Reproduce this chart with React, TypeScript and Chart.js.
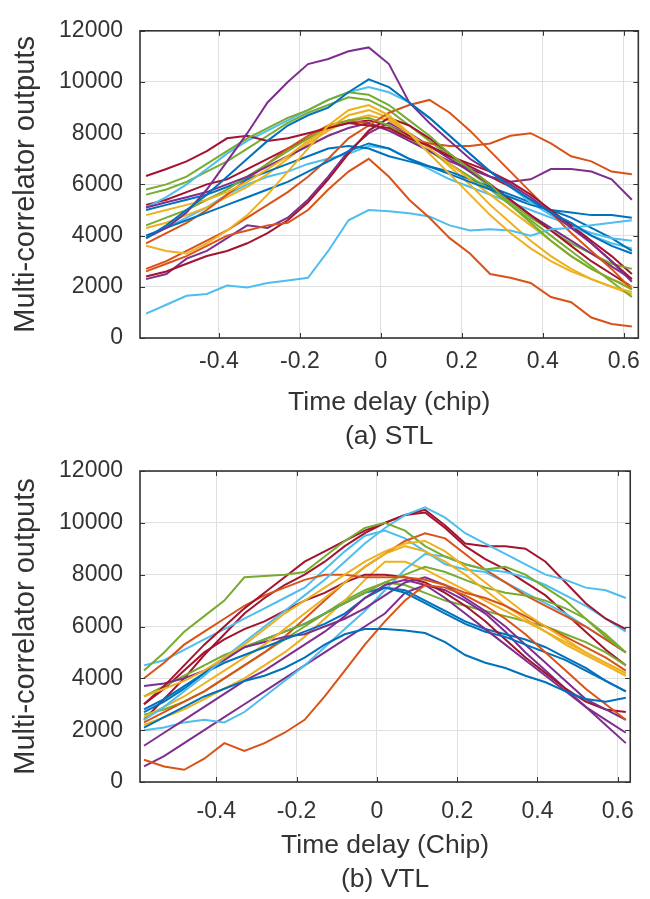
import React, { useEffect, useRef } from 'react';
import { Chart, registerables } from 'chart.js';

Chart.register(...registerables);

// ---------- data ----------
const DELAY_CHIP = [-0.58, -0.53, -0.48, -0.43, -0.38, -0.33, -0.28, -0.23, -0.18, -0.13, -0.08, -0.03, 0.02, 0.07, 0.12, 0.17, 0.22, 0.27, 0.32, 0.37, 0.42, 0.47, 0.52, 0.57, 0.62];
const X_TICKS = [-0.4, -0.2, 0, 0.2, 0.4, 0.6];
const Y_TICKS = [0, 2000, 4000, 6000, 8000, 10000, 12000];
const MATLAB_COLORS = ['#0072BD', '#D95319', '#EDB120', '#7E2F8E', '#77AC30', '#4DBEEE', '#A2142F'];

const Y_LABEL = 'Multi-correlator outputs';
const STL_X_LABEL = ['Time delay (chip)', '(a) STL'];
const VTL_X_LABEL = ['Time delay (Chip)', '(b) VTL'];

// (a) STL
const STL_01 = [3900, 4400, 5000, 5600, 6300, 7000, 7700, 8300, 8700, 9000, 9600, 10100, 9800, 9200, 8600, 7900, 7200, 6500, 5900, 5400, 4900, 4500, 4000, 3600, 3300];
const STL_02 = [2600, 2900, 3200, 3600, 4000, 4200, 4400, 4500, 5000, 5800, 6500, 7000, 6300, 5400, 4700, 3900, 3300, 2500, 2350, 2150, 1600, 1400, 800, 550, 450];
const STL_03 = [3600, 3400, 3300, 3700, 4200, 4800, 5600, 6500, 7400, 8300, 8900, 9100, 8700, 8000, 7200, 6400, 5600, 4800, 4100, 3500, 3000, 2600, 2300, 2000, 1800];
const STL_04 = [3900, 4300, 4900, 5800, 6900, 8000, 9200, 10000, 10700, 10900, 11200, 11350, 10700, 9200, 8400, 7700, 7000, 6500, 6000, 5500, 4900, 4300, 3700, 3000, 2200];
const STL_05 = [5800, 6000, 6300, 6800, 7300, 7800, 8200, 8600, 8900, 9300, 9600, 9500, 9100, 8500, 7900, 7200, 6600, 6000, 5200, 4500, 3800, 3200, 2700, 2300, 1900];
const STL_06 = [950, 1300, 1650, 1720, 2050, 1970, 2150, 2250, 2350, 3400, 4600, 5000, 4950, 4870, 4750, 4400, 4200, 4250, 4200, 4000, 4250, 4300, 4400, 4500, 4600];
const STL_07 = [6330, 6600, 6900, 7300, 7800, 7900, 7700, 7800, 8000, 8200, 8400, 8300, 8200, 7800, 7500, 7100, 6800, 6500, 6100, 5600, 5000, 4400, 3700, 3000, 2300];
const STL_08 = [4000, 4300, 4600, 4900, 5200, 5500, 5800, 6100, 6500, 6900, 7300, 7600, 7400, 7000, 6700, 6400, 6100, 5800, 5500, 5200, 5000, 4900, 4800, 4800, 4700];
const STL_09 = [2700, 3000, 3400, 3800, 4200, 4700, 5200, 5700, 6300, 7000, 7800, 8300, 8800, 9100, 9300, 8800, 8100, 7300, 6500, 5700, 4900, 4100, 3400, 2700, 1900];
const STL_10 = [4800, 5000, 5200, 5400, 5700, 6100, 6600, 7100, 7700, 8200, 8700, 8900, 8600, 8000, 7400, 6800, 6200, 5600, 5000, 4400, 3800, 3200, 2700, 2300, 2000];
const STL_11 = [5100, 5300, 5500, 5700, 6000, 6300, 6700, 7100, 7500, 7900, 8200, 8400, 8100, 7700, 7300, 6900, 6600, 6300, 6100, 6200, 6600, 6600, 6500, 6200, 5400];
const STL_12 = [4400, 4700, 5000, 5400, 5800, 6300, 6800, 7300, 7800, 8200, 8500, 8600, 8300, 7800, 7300, 6800, 6300, 5800, 5200, 4600, 4000, 3400, 2800, 2200, 1600];
const STL_13 = [5100, 5500, 6000, 6600, 7200, 7700, 8100, 8500, 8900, 9300, 9600, 9800, 9600, 9200, 8600, 7900, 7200, 6500, 5900, 5300, 4800, 4400, 4100, 3900, 3800];
const STL_14 = [2400, 2600, 2900, 3200, 3400, 3700, 4100, 4600, 5300, 6200, 7200, 8100, 8600, 8300, 7800, 7200, 6600, 6000, 5400, 4800, 4200, 3600, 3000, 2500, 2000];
const STL_15 = [5000, 5200, 5400, 5600, 5900, 6200, 6500, 6800, 7100, 7400, 7500, 7400, 7100, 6900, 6700, 6500, 6200, 5900, 5600, 5300, 5000, 4700, 4300, 3900, 3400];
const STL_16 = [3700, 4100, 4500, 5000, 5600, 6200, 6800, 7400, 7900, 8300, 8500, 8400, 8100, 7800, 7600, 7500, 7500, 7600, 7900, 8000, 7600, 7100, 6900, 6500, 6400];
const STL_17 = [4300, 4500, 4800, 5100, 5500, 5900, 6400, 7000, 7600, 8100, 8500, 8700, 8500, 8000, 7400, 6700, 6000, 5200, 4500, 3800, 3200, 2700, 2300, 2000, 1700];
const STL_18 = [2300, 2500, 3100, 3400, 3900, 4400, 4300, 4700, 5400, 6300, 7300, 8000, 8400, 8000, 7500, 7000, 6500, 6000, 5400, 4800, 4300, 3800, 3300, 2800, 2300];
const STL_19 = [5600, 5800, 6100, 6500, 6900, 7400, 7900, 8400, 8800, 9100, 9400, 9300, 8900, 8300, 7700, 7100, 6500, 5900, 5300, 4700, 4200, 3700, 3300, 2900, 2700];
const STL_20 = [4000, 4300, 4700, 5100, 5600, 6000, 6300, 6500, 6800, 7000, 7200, 7500, 7400, 7000, 6600, 6200, 5900, 5600, 5300, 5000, 4700, 4400, 4000, 3700, 3500];
const STL_21 = [5200, 5400, 5700, 6000, 6200, 6600, 7000, 7400, 7800, 8200, 8400, 8500, 8300, 7900, 7500, 7100, 6700, 6300, 5900, 5400, 4900, 4400, 3800, 3200, 2500];
const STL_SERIES = [STL_01, STL_02, STL_03, STL_04, STL_05, STL_06, STL_07, STL_08, STL_09, STL_10, STL_11, STL_12, STL_13, STL_14, STL_15, STL_16, STL_17, STL_18, STL_19, STL_20, STL_21];

// (b) VTL
const VTL_01 = [2100, 2500, 2900, 3300, 3600, 3900, 4100, 4400, 4800, 5300, 5700, 5900, 5900, 5850, 5750, 5400, 4900, 4600, 4400, 4100, 3850, 3500, 3200, 3100, 3250];
const VTL_02 = [860, 600, 470, 900, 1500, 1200, 1500, 1900, 2400, 3300, 4300, 5300, 6200, 7000, 7600, 7500, 7200, 6800, 6300, 5700, 5000, 4300, 3600, 3000, 2400];
const VTL_03 = [3300, 3600, 3900, 4300, 4800, 5300, 5900, 6500, 7000, 7500, 8000, 8500, 8900, 9200, 9300, 8900, 8300, 7700, 7100, 6500, 6000, 5500, 5000, 4600, 4200];
const VTL_04 = [1400, 1900, 2400, 2900, 3400, 3900, 4300, 4800, 5300, 5800, 6400, 7100, 7600, 7800, 7600, 7100, 6500, 5900, 5300, 4700, 4100, 3500, 2900, 2400, 1900];
const VTL_05 = [4300, 5000, 5800, 6400, 7000, 7900, 7950, 8000, 8100, 8700, 9300, 9800, 10000, 9700, 9100, 8700, 8400, 8200, 8300, 8000, 7500, 7000, 6300, 5600, 5000];
const VTL_06 = [2400, 2900, 3500, 4100, 4800, 5400, 6000, 6600, 7200, 7800, 8500, 9200, 9800, 10300, 10600, 10200, 9600, 9200, 8800, 8400, 8000, 7800, 7500, 7400, 7100];
const VTL_07 = [3000, 3700, 4500, 5300, 6000, 6700, 7300, 7900, 8500, 8900, 9300, 9700, 10000, 10300, 10500, 9900, 9200, 9100, 9100, 9000, 8500, 7700, 6900, 6300, 5900];
const VTL_08 = [2800, 3200, 3700, 4200, 4600, 4900, 5200, 5500, 5800, 6100, 6500, 7100, 7500, 7300, 6900, 6500, 6100, 5800, 5600, 5300, 5000, 4700, 4300, 3900, 3500];
const VTL_09 = [4000, 4600, 5300, 5800, 6300, 6800, 7200, 7500, 7800, 8000, 8000, 7900, 7900, 7900, 7800, 7600, 7300, 7100, 6800, 6400, 6000, 5600, 5200, 4800, 4300];
const VTL_10 = [2500, 2900, 3300, 3800, 4300, 4800, 5300, 5900, 6500, 7100, 7700, 8300, 8800, 9100, 8900, 8500, 8000, 7400, 6800, 6300, 5800, 5300, 4900, 4500, 4100];
const VTL_11 = [3700, 3800, 4000, 4300, 4700, 5200, 5400, 5600, 5700, 6000, 6300, 6700, 7200, 7700, 7900, 7600, 7100, 6600, 6000, 5300, 4600, 3900, 3200, 2800, 2400];
const VTL_12 = [3300, 3700, 4100, 4500, 4900, 5200, 5500, 5800, 6100, 6500, 6900, 7300, 7700, 8000, 8300, 8100, 7800, 7500, 7300, 7200, 7000, 6700, 6300, 5700, 5000];
const VTL_13 = [2000, 2100, 2300, 2400, 2300, 2700, 3300, 3900, 4500, 5200, 5900, 6600, 7400, 8200, 8800, 8700, 8400, 8200, 8100, 7900, 7600, 7200, 6800, 6300, 5800];
const VTL_14 = [3000, 3600, 4300, 5000, 5500, 5900, 6200, 6600, 7000, 7300, 7700, 8000, 8000, 7900, 7700, 7300, 6800, 6200, 5500, 4800, 4200, 3600, 3100, 2800, 2700];
const VTL_15 = [2700, 3100, 3600, 4200, 4800, 5200, 5500, 5800, 6100, 6500, 6900, 7300, 7500, 7400, 7000, 6600, 6200, 5900, 5700, 5500, 5200, 4800, 4400, 3900, 3500];
const VTL_16 = [2300, 2700, 3100, 3500, 4000, 4500, 5000, 5600, 6300, 7000, 7700, 8300, 8800, 9300, 9600, 9400, 8800, 8200, 7700, 7200, 6800, 6400, 6000, 5500, 5000];
const VTL_17 = [2200, 2500, 2800, 3200, 3600, 4000, 4500, 5000, 5600, 6300, 7000, 7800, 8500, 8500, 8200, 7800, 7400, 7000, 6600, 6200, 5800, 5400, 5000, 4600, 4200];
const VTL_18 = [600, 1000, 1500, 2000, 2500, 3000, 3500, 4000, 4500, 5000, 5500, 6000, 6500, 7300, 7600, 7400, 7000, 6500, 5800, 5000, 4300, 3600, 2900, 2200, 1500];
const VTL_19 = [2600, 2800, 3100, 3500, 4000, 4500, 5000, 5500, 6000, 6500, 7000, 7400, 7700, 7600, 7300, 7000, 6800, 6600, 6400, 6200, 6000, 5700, 5400, 5000, 4500];
const VTL_20 = [4500, 4700, 5100, 5500, 5900, 6300, 6700, 7100, 7500, 8200, 8900, 9500, 9700, 9400, 8900, 8400, 8200, 8100, 7700, 7300, 6900, 6500, 6000, 5500, 5000];
const VTL_21 = [2400, 3200, 4000, 4900, 5700, 6500, 7100, 7600, 8000, 8500, 9100, 9600, 10000, 10300, 10400, 9800, 9100, 8600, 8200, 7700, 7200, 6500, 5800, 5100, 4500];
const VTL_SERIES = [VTL_01, VTL_02, VTL_03, VTL_04, VTL_05, VTL_06, VTL_07, VTL_08, VTL_09, VTL_10, VTL_11, VTL_12, VTL_13, VTL_14, VTL_15, VTL_16, VTL_17, VTL_18, VTL_19, VTL_20, VTL_21];

// ---------- styling ----------
const FONT = "'Liberation Sans', Arial, Helvetica, sans-serif";
const TEXT_COLOR = '#333333';
const FRAME_COLOR = '#333333';
const GRID_COLOR = '#e0e0e0';

const framePlugin = {
  id: 'matlabFrame',
  afterDraw(chart: any) {
    const { ctx, chartArea: a, scales } = chart;
    ctx.save();
    ctx.strokeStyle = FRAME_COLOR;
    ctx.lineWidth = 1;
    const tl = 5;
    ctx.beginPath();
    for (const t of scales.x.ticks) {
      const px = Math.round(scales.x.getPixelForValue(t.value)) + 0.5;
      ctx.moveTo(px, a.bottom); ctx.lineTo(px, a.bottom - tl);
      ctx.moveTo(px, a.top); ctx.lineTo(px, a.top + tl);
    }
    for (const t of scales.y.ticks) {
      const py = Math.round(scales.y.getPixelForValue(t.value)) + 0.5;
      ctx.moveTo(a.left, py); ctx.lineTo(a.left + tl, py);
      ctx.moveTo(a.right, py); ctx.lineTo(a.right - tl, py);
    }
    ctx.stroke();
    ctx.lineWidth = 1.6;
    ctx.strokeRect(a.left, a.top, a.right - a.left, a.bottom - a.top);
    ctx.restore();
  },
};

type PanelProps = {
  series: number[][];
  xLabel: string[];
  xMin: number;
  xMax: number;
  height: number;
  top: number;
  plotTop: number;
  plotBottom: number;
  tickPad: number;
  titlePadBottom: number;
};

const CANVAS_W = 650;
const PLOT_LEFT = 140;
const PLOT_RIGHT = 641;

function Panel(p: PanelProps) {
  const ref = useRef<HTMLCanvasElement | null>(null);
  useEffect(() => {
    if (!ref.current) return;
    const datasets = p.series.map((s, i) => ({
      data: DELAY_CHIP.map((x, j) => ({ x, y: s[j] })),
      borderColor: MATLAB_COLORS[i % MATLAB_COLORS.length],
      borderWidth: 2,
      pointRadius: 0,
      tension: 0,
      fill: false,
    }));
    const chart = new Chart(ref.current, {
      type: 'line',
      data: { datasets },
      plugins: [framePlugin],
      options: {
        animation: false,
        responsive: false,
        devicePixelRatio: 1,
        layout: { padding: { left: 0, top: p.plotTop, right: CANVAS_W - PLOT_RIGHT, bottom: 0 } },
        plugins: { legend: { display: false }, tooltip: { enabled: false }, title: { display: false } },
        scales: {
          x: {
            type: 'linear',
            min: p.xMin,
            max: p.xMax,
            afterBuildTicks: (s: any) => { s.ticks = X_TICKS.map((v) => ({ value: v })); },
            afterFit: (s: any) => { s.height = p.height - p.plotBottom; },
            grid: { color: GRID_COLOR, drawTicks: false, lineWidth: 1 },
            border: { display: false },
            ticks: {
              color: TEXT_COLOR,
              font: { family: FONT, size: 23 },
              padding: p.tickPad,
              maxRotation: 0,
              autoSkip: false,
              callback: (v: any) => String(v),
            },
            title: {
              display: true,
              text: p.xLabel,
              color: TEXT_COLOR,
              font: { family: FONT, size: 26.5, lineHeight: 1.3 },
              padding: { top: 0, bottom: p.titlePadBottom },
            },
          },
          y: {
            type: 'linear',
            min: 0,
            max: 12000,
            afterBuildTicks: (s: any) => { s.ticks = Y_TICKS.map((v) => ({ value: v })); },
            afterFit: (s: any) => { s.width = PLOT_LEFT; },
            grid: { color: GRID_COLOR, drawTicks: false, lineWidth: 1 },
            border: { display: false },
            ticks: {
              color: TEXT_COLOR,
              font: { family: FONT, size: 23 },
              padding: 17,
              autoSkip: false,
              callback: (v: any) => String(v),
            },
            title: {
              display: true,
              text: Y_LABEL,
              color: TEXT_COLOR,
              font: { family: FONT, size: 29, lineHeight: 1.2 },
              padding: { top: 9, bottom: 0 },
            },
          },
        },
      } as any,
    });
    return () => chart.destroy();
  }, []);
  return (
    <canvas
      ref={ref}
      width={CANVAS_W}
      height={p.height}
      style={{ position: 'absolute', left: 0, top: p.top, width: CANVAS_W, height: p.height }}
    />
  );
}

export default function App() {
  return (
    <div style={{ position: 'absolute', left: 0, top: 0, width: 650, height: 899, background: '#ffffff', overflow: 'hidden' }}>
      <Panel series={STL_SERIES} xLabel={STL_X_LABEL} xMin={-0.595} xMax={0.636}
        height={460} top={0} plotTop={22} plotBottom={338} tickPad={10} titlePadBottom={6} />
      <Panel series={VTL_SERIES} xLabel={VTL_X_LABEL} xMin={-0.59} xMax={0.631}
        height={459} top={440} plotTop={31} plotBottom={342} tickPad={16} titlePadBottom={2} />
    </div>
  );
}
